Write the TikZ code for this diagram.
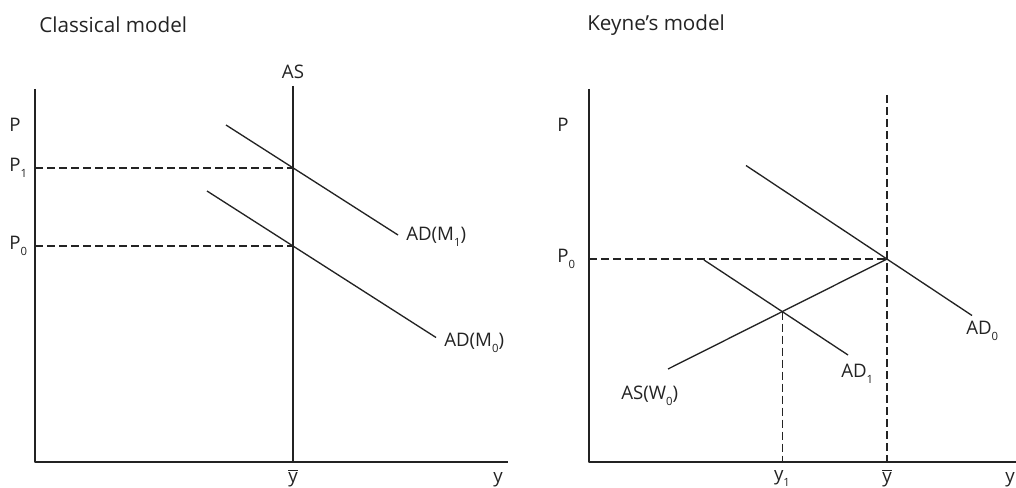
\documentclass[tikz,border=0pt]{standalone}
\usepackage{fontspec}
\setmainfont{Open Sans}
\usetikzlibrary{calc}
\definecolor{ecink}{RGB}{35,35,35}
\newcommand{\ymean}{$\overline{\mbox{y}}$}
\newcommand{\lowsub}[1]{\raisebox{-0.6ex}{\fontsize{8.5}{9}\selectfont #1}}
\tikzset{
  axis/.style={draw=ecink, line width=1pt},
  curve/.style={draw=ecink, line width=1pt},
  guide/.style={draw=ecink, line width=1pt, dash pattern=on 6pt off 3pt},
  lbl/.style={font=\fontsize{14}{16}\selectfont, text=ecink, inner sep=0pt},
  ttl/.style={lbl, font=\fontsize{15.5}{18}\selectfont, anchor=west},
  every picture/.append style={line join=round}
}
\begin{document}
\begin{tikzpicture}[x=0.75pt,y=-0.75pt]
  \useasboundingbox (0,0) rectangle (1016,488);

  % classical model
  \node[ttl] (cTitle) at (39,25) {Classical model};
  \coordinate (cTop) at (35,89);
  \coordinate (cO) at (35,462);
  \coordinate (cEnd) at (508,462);
  \draw[axis] (cTop) -- (cO) -- (cEnd);
  \coordinate (cASa) at (293,86);
  \coordinate (cASb) at (293,462);
  \draw[curve] (cASa) -- (cASb);
  \coordinate (cAD1a) at (226,125);
  \coordinate (cAD1b) at (398,235);
  \coordinate (cAD0a) at (207,191);
  \coordinate (cAD0b) at (436,337.5);
  \draw[curve] (cAD1a) -- (cAD1b);
  \draw[curve] (cAD0a) -- (cAD0b);
  \coordinate (cE1) at (intersection of cAD1a--cAD1b and cASa--cASb);
  \coordinate (cE0) at (intersection of cAD0a--cAD0b and cASa--cASb);
  \draw[guide] (cO |- cE1) -- (cE1);
  \draw[guide] (cO |- cE0) -- (cE0);

  \node[lbl] (cAS) at (293,72) {AS};
  \node[lbl, anchor=west] (cP) at (9,125) {P};
  \node[lbl, anchor=west] (cP1) at (9,168) {P\lowsub{1}};
  \node[lbl, anchor=west] (cP0) at (9,246) {P\lowsub{0}};
  \node[lbl, anchor=west] (cLAD1) at (406,237) {AD(M\lowsub{1})};
  \node[lbl, anchor=west] (cLAD0) at (444,343) {AD(M\lowsub{0})};
  \node[lbl, anchor=south] (cYbar) at (293,487) {\ymean};
  \node[lbl, anchor=south] (cY) at (498,487) {y};

  % keynes model
  \node[ttl] (kTitle) at (587,25) {Keyne’s model};
  \coordinate (kTop) at (589,89);
  \coordinate (kO) at (589,462);
  \coordinate (kEnd) at (1016,462);
  \draw[axis] (kTop) -- (kO) -- (kEnd);
  \coordinate (kE0) at (887,259);
  \coordinate (kFull) at (887,95);
  \coordinate (kAD0a) at (746,165.5);
  \coordinate (kAD0b) at (972,315.5);
  \coordinate (kAD1a) at (704,260);
  \coordinate (kAD1b) at (848,355);
  \coordinate (kASa) at (668,369);
  \draw[curve] (kAD0a) -- (kAD0b);
  \draw[curve] (kAD1a) -- (kAD1b);
  \draw[curve] (kASa) -- (kE0);
  \coordinate (kE1) at (intersection of kAD1a--kAD1b and kASa--kE0);
  \draw[guide] (kO |- kE0) -- (kE0);
  \draw[guide] (kFull) -- (kFull |- kO);
  \draw[guide] (kE1) -- (kE1 |- kO);

  \node[lbl, anchor=west] (kP) at (557,125) {P};
  \node[lbl, anchor=west] (kP0) at (557,259) {P\lowsub{0}};
  \node[lbl, anchor=west] (kLAD0) at (966,331) {AD\lowsub{0}};
  \node[lbl, anchor=west] (kLAD1) at (841,374) {AD\lowsub{1}};
  \node[lbl, anchor=west] (kLAS) at (621,396) {AS(W\lowsub{0})};
  \node[lbl, anchor=south] (kY1) at (782,487) {y\lowsub{1}};
  \node[lbl, anchor=south] (kYbar) at (887,487) {\ymean};
  \node[lbl, anchor=south] (kY) at (1010,487) {y};
\end{tikzpicture}
\end{document}
